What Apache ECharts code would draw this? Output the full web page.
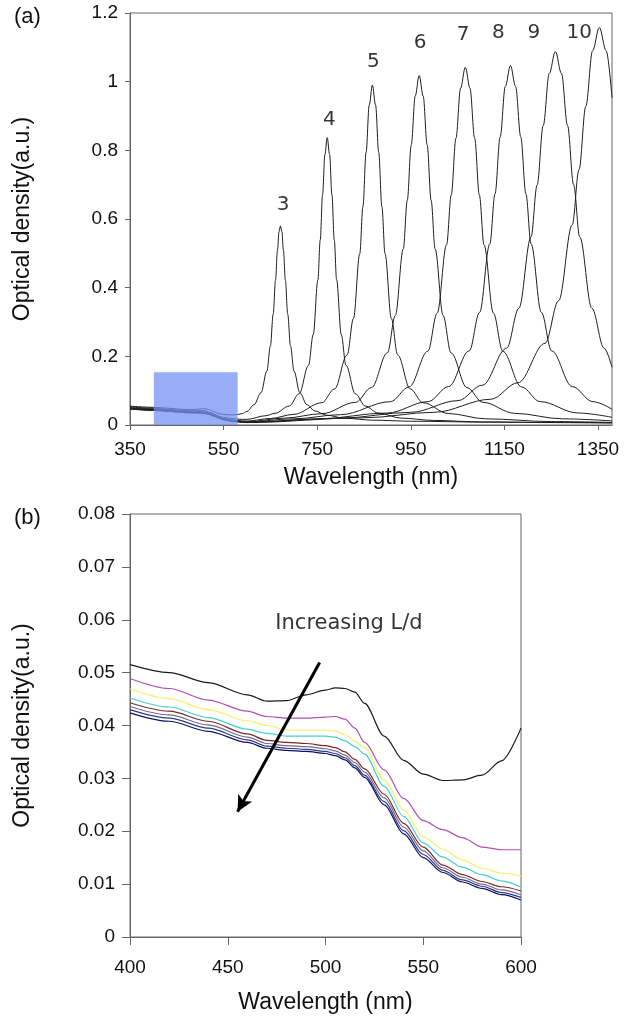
<!DOCTYPE html>
<html>
<head>
<meta charset="utf-8">
<script src="https://cdn.jsdelivr.net/npm/echarts@6/dist/echarts.min.js"></script>
<style>html,body{margin:0;padding:0;background:#fff}#c{width:630px;height:1021px}</style>
</head>
<body>
<div id="c"></div>
<script>
// ---------- DATA ----------
// panel (b): wavelengths (nm)
const bWavelength = [400, 420, 440, 460, 470, 480, 490, 500, 505, 510, 515, 520, 530, 540, 550, 560, 570, 580, 590, 600];
// panel (b): optical density for L/d = 3 ... 10
const bCurve3  = [0.0515, 0.0500, 0.0481, 0.0458, 0.0446, 0.0447, 0.0458, 0.0467, 0.0471, 0.0470, 0.0463, 0.0442, 0.0380, 0.0334, 0.0308, 0.0296, 0.0297, 0.0306, 0.0333, 0.0395];
const bCurve4  = [0.0489, 0.0470, 0.0448, 0.0427, 0.0417, 0.0414, 0.0414, 0.0416, 0.0417, 0.0412, 0.0395, 0.0368, 0.0316, 0.0262, 0.0220, 0.0203, 0.0188, 0.0170, 0.0165, 0.0165];
const bCurve5  = [0.0469, 0.0451, 0.0430, 0.0409, 0.0400, 0.0392, 0.0391, 0.0391, 0.0390, 0.0383, 0.0370, 0.0358, 0.0297, 0.0240, 0.0190, 0.0166, 0.0146, 0.0130, 0.0121, 0.0115];
const bCurve6  = [0.0452, 0.0435, 0.0415, 0.0393, 0.0385, 0.0380, 0.0380, 0.0380, 0.0378, 0.0371, 0.0360, 0.0346, 0.0285, 0.0228, 0.0178, 0.0151, 0.0132, 0.0118, 0.0106, 0.0094];
const bCurve7  = [0.0443, 0.0427, 0.0408, 0.0384, 0.0372, 0.0368, 0.0366, 0.0362, 0.0358, 0.0350, 0.0336, 0.0318, 0.0270, 0.0215, 0.0170, 0.0136, 0.0118, 0.0105, 0.0095, 0.0087];
const bCurve8  = [0.0436, 0.0420, 0.0401, 0.0378, 0.0366, 0.0362, 0.0360, 0.0356, 0.0352, 0.0344, 0.0330, 0.0312, 0.0263, 0.0208, 0.0163, 0.0131, 0.0113, 0.0100, 0.0089, 0.0080];
const bCurve9  = [0.0430, 0.0414, 0.0395, 0.0373, 0.0361, 0.0357, 0.0355, 0.0351, 0.0347, 0.0339, 0.0324, 0.0306, 0.0256, 0.0201, 0.0156, 0.0126, 0.0108, 0.0096, 0.0084, 0.0075];
const bCurve10 = [0.0424, 0.0408, 0.0389, 0.0368, 0.0357, 0.0353, 0.0351, 0.0347, 0.0343, 0.0335, 0.0320, 0.0302, 0.0250, 0.0195, 0.0150, 0.0122, 0.0104, 0.0092, 0.0080, 0.0070];

// panel (a): value at 350 nm for each curve
const aStart350 = [0.055, 0.053, 0.051, 0.049, 0.048, 0.0475, 0.047, 0.0465];
// panel (a): longitudinal peak region [wavelength, OD]
const aPeak3 = [[615,0.059],[630,0.094],[642.5,0.157],[650,0.23],[656,0.323],[661,0.422],[665,0.508],[668.5,0.563],[671.5,0.58],[674.5,0.563],[678,0.508],[682,0.422],[687,0.323],[693,0.23],[700.5,0.157],[713,0.094],[728,0.059],[745,0.041],[770,0.0285],[810,0.0194],[870,0.014],[950,0.011],[1100,0.0085],[1250,0.0075],[1380,0.007]];
const aPeak4 = [[640,0.027],[660,0.034],[690,0.055],[711.5,0.091],[731.5,0.174],[741.5,0.263],[751.5,0.4225],[756.5,0.539],[761.5,0.671],[766.5,0.788],[771.5,0.837],[776.5,0.788],[781.5,0.671],[786.5,0.539],[791.5,0.4225],[801.5,0.263],[811.5,0.174],[831.5,0.091],[853,0.055],[880,0.035],[930,0.020],[1000,0.0133],[1100,0.009],[1250,0.007],[1380,0.0055]];
const aPeak5 = [[650,0.019],[700,0.031],[760,0.065],[787,0.105],[814,0.204],[827.5,0.310],[841,0.499],[847.75,0.636],[854.5,0.794],[861.25,0.932],[868,0.99],[874.75,0.932],[881.5,0.794],[888.25,0.636],[895,0.499],[908.5,0.310],[922,0.204],[949,0.105],[976,0.065],[1030,0.0335],[1110,0.018],[1250,0.010],[1380,0.0075]];
const aPeak6 = [[680,0.020],[760,0.033],[832,0.066],[866,0.109],[900,0.210],[917,0.319],[934,0.513],[942.5,0.654],[951,0.816],[959.5,0.958],[968,1.018],[976.5,0.958],[985,0.816],[993.5,0.654],[1002,0.513],[1019,0.319],[1036,0.210],[1070,0.109],[1104,0.066],[1172,0.034],[1274,0.018],[1380,0.012]];
const aPeak7 = [[700,0.018],[800,0.030],[906.5,0.068],[946.5,0.111],[986.5,0.215],[1006.5,0.326],[1026.5,0.525],[1036.5,0.670],[1046.5,0.835],[1056.5,0.981],[1066.5,1.042],[1076.5,0.981],[1086.5,0.835],[1096.5,0.670],[1106.5,0.525],[1126.5,0.326],[1146.5,0.215],[1186.5,0.111],[1226.5,0.068],[1306.5,0.035],[1380,0.0225]];
const aPeak8 = [[750,0.0176],[900,0.035],[987,0.068],[1031,0.112],[1075,0.216],[1097,0.328],[1119,0.528],[1130,0.673],[1141,0.839],[1152,0.986],[1163,1.047],[1174,0.986],[1185,0.839],[1196,0.673],[1207,0.528],[1229,0.328],[1251,0.216],[1295,0.112],[1339,0.068],[1380,0.046]];
const aPeak9 = [[800,0.020],[950,0.037],[1051,0.071],[1103,0.116],[1155,0.224],[1181,0.340],[1207,0.548],[1220,0.699],[1233,0.872],[1246,1.024],[1259,1.088],[1272,1.024],[1285,0.872],[1298,0.699],[1311,0.548],[1337,0.340],[1363,0.224],[1380,0.168]];
const aPeak10 = [[850,0.021],[1000,0.037],[1121,0.075],[1179,0.123],[1237,0.238],[1266,0.362],[1295,0.583],[1309.5,0.744],[1324,0.928],[1338.5,1.09],[1353,1.158],[1367.5,1.09],[1380,0.953]];

// peak labels in panel (a)
const peakLabels = ['3', '4', '5', '6', '7', '8', '9', '10'];
const peakLabelWl = [677, 776, 870, 970, 1062, 1137, 1213, 1310];
const peakLabelOd = [0.641, 0.889, 1.058, 1.113, 1.136, 1.142, 1.142, 1.142];

// highlighted region in panel (a)
const boxWl = [401, 580];
const boxOdTop = 0.154;

// arrow in panel (b)
const arrowStart = [497, 0.0519];
const arrowEnd = [455, 0.0237];
const arrowText = 'Increasing L/d';
const arrowTextPos = [512, 0.0593];

// ---------- CHART ----------
const bCurves = [bCurve3, bCurve4, bCurve5, bCurve6, bCurve7, bCurve8, bCurve9, bCurve10];
const aPeaks = [aPeak3, aPeak4, aPeak5, aPeak6, aPeak7, aPeak8, aPeak9, aPeak10];
const bColors = ['#1a1a1a', '#b050b0', '#f4ef6a', '#45cfd0', '#7a2a2a', '#7a6a8a', '#2a3a8a', '#101060'];

const AR = 'Liberation Sans, Arial, sans-serif';
const DV = 'DejaVu Sans, Verdana, sans-serif';
const axisCol = '#666';

const series = [];
bCurves.forEach((c, i) => {
  const pts = [[350, aStart350[i]]].concat(bWavelength.map((w, j) => [w, c[j]])).concat(aPeaks[i]);
  series.push({
    type: 'line', xAxisIndex: 0, yAxisIndex: 0, data: pts, showSymbol: false,
    smooth: 0.35, smoothMonotone: 'x',
    lineStyle: { color: '#1e1e1e', width: 1 }, z: 2
  });
});
// highlighted box (drawn above curves): a flat line filled down to the axis
series.push({
  type: 'line', xAxisIndex: 0, yAxisIndex: 0,
  data: [[boxWl[0], boxOdTop], [boxWl[1], boxOdTop]], showSymbol: false, silent: true,
  lineStyle: { opacity: 0, width: 0 }, z: 10,
  areaStyle: { color: 'rgba(118,145,242,0.75)', origin: 'start', opacity: 1 }
});
// peak labels
series.push({
  type: 'scatter', xAxisIndex: 0, yAxisIndex: 0, symbolSize: 0, z: 12,
  data: peakLabels.map((t, i) => ({ name: t, value: [peakLabelWl[i], peakLabelOd[i]] })),
  label: { show: true, position: 'inside', formatter: p => p.name, fontFamily: DV, fontSize: 20, color: '#000' }
});
// panel (b) curves
bCurves.forEach((c, i) => {
  series.push({
    type: 'line', xAxisIndex: 1, yAxisIndex: 1, data: bWavelength.map((w, j) => [w, c[j]]),
    showSymbol: false, smooth: 0.3, smoothMonotone: 'x',
    lineStyle: { color: bColors[i], width: 1.2 }, z: 2
  });
});
// arrow + text
series.push({
  type: 'scatter', xAxisIndex: 1, yAxisIndex: 1, symbolSize: 0, z: 12,
  data: [{ name: arrowText, value: arrowTextPos }],
  label: { show: true, position: 'inside', formatter: p => p.name, fontFamily: DV, fontSize: 21, color: '#000' },
  markLine: {
    silent: true, symbol: ['none', 'arrow'], symbolSize: [12, 16],
    lineStyle: { color: '#000', width: 3, type: 'solid' }, label: { show: false },
    data: [[{ coord: arrowStart }, { coord: arrowEnd }]]
  }
});

const labelStyle = { fontFamily: AR, fontSize: 19, color: '#111' };
const nameStyle = { fontFamily: AR, fontSize: 23, color: '#111' };
const plain = v => String(v);

const option = {
  animation: false,
  grid: [
    { left: 130, top: 13, width: 482, height: 412, show: true, borderColor: axisCol, borderWidth: 1, backgroundColor: 'transparent' },
    { left: 130, top: 514, width: 391, height: 423, show: true, borderColor: axisCol, borderWidth: 1, backgroundColor: 'transparent' }
  ],
  xAxis: [
    { gridIndex: 0, type: 'value', min: 350, max: 1380, interval: 200,
      name: 'Wavelength (nm)', nameLocation: 'middle', nameGap: 41, nameTextStyle: nameStyle,
      axisLine: { lineStyle: { color: axisCol } }, axisTick: { length: 5, lineStyle: { color: axisCol } },
      axisLabel: Object.assign({ margin: 15, showMaxLabel: false, formatter: plain }, labelStyle), splitLine: { show: false } },
    { gridIndex: 1, type: 'value', min: 400, max: 600, interval: 50,
      name: 'Wavelength (nm)', nameLocation: 'middle', nameGap: 54, nameTextStyle: nameStyle,
      axisLine: { lineStyle: { color: axisCol } }, axisTick: { length: 8, lineStyle: { color: axisCol } },
      axisLabel: Object.assign({ margin: 21, formatter: plain }, labelStyle), splitLine: { show: false } }
  ],
  yAxis: [
    { gridIndex: 0, type: 'value', min: 0, max: 1.2, interval: 0.2,
      name: 'Optical density(a.u.)', nameLocation: 'middle', nameGap: 96, nameTextStyle: nameStyle,
      axisLine: { show: true, lineStyle: { color: axisCol } }, axisTick: { show: true, length: 5, lineStyle: { color: axisCol } },
      axisLabel: Object.assign({ margin: 12 }, labelStyle), splitLine: { show: false } },
    { gridIndex: 1, type: 'value', min: 0, max: 0.08, interval: 0.01,
      name: 'Optical density(a.u.)', nameLocation: 'middle', nameGap: 96, nameTextStyle: nameStyle,
      axisLine: { show: true, lineStyle: { color: axisCol } }, axisTick: { show: true, length: 8, lineStyle: { color: axisCol } },
      axisLabel: Object.assign({ margin: 15 }, labelStyle), splitLine: { show: false } }
  ],
  graphic: [
    { type: 'text', left: 14, top: 6, style: { text: '(a)', font: '22px Liberation Sans, Arial', fill: '#111' } },
    { type: 'text', left: 14, top: 507, style: { text: '(b)', font: '22px Liberation Sans, Arial', fill: '#111' } }
  ],
  series: series
};

const chart = echarts.init(document.getElementById('c'), null, { renderer: 'canvas' });
chart.setOption(option);
</script>
</body>
</html>
